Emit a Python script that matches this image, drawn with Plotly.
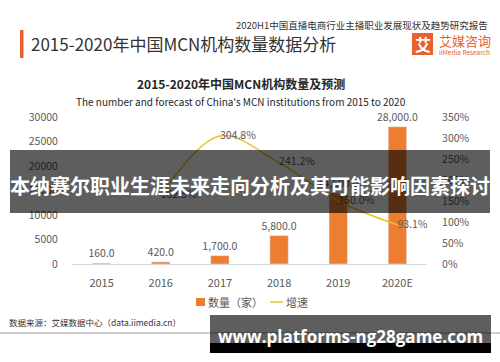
import plotly.graph_objects as go

categories = ["2015", "2016", "2017", "2018", "2019", "2020E"]
counts = [160, 420, 1700, 5800, 14500, 28000]
growth_x = ["2016", "2017", "2018", "2019", "2020E"]
growth = [162.5, 304.8, 241.2, 150.0, 93.1]
left_ticks = [0, 5000, 10000, 15000, 20000, 25000, 30000]
right_ticks = [0, 50, 100, 150, 200, 250, 300, 350]
right_tick_labels = [f"{v}%" for v in right_ticks]

FONT = "Noto Sans CJK SC"
L, R, T, B = 72, 427, 117, 264
W, H = 500, 362
BAR_COLOR = "#ED7D31"
LINE_COLOR = "#E9C32A"


def px(x):
    return (x - L) / (R - L)


def py(y):
    return (B - y) / (B - T)


fig = go.Figure()
fig.add_trace(go.Bar(
    x=categories, y=counts, name="数量（家）",
    marker_color=BAR_COLOR, width=0.31,
    text=counts, texttemplate="%{y:,.1f}", textposition="outside",
    textfont=dict(size=10.5, color="#595959"),
    constraintext="none", cliponaxis=False,
))
fig.add_trace(go.Scatter(
    x=growth_x, y=growth, name="增速", yaxis="y2",
    mode="lines+text", line=dict(color=LINE_COLOR, width=1.5, shape="spline", smoothing=1),
    text=[f"{v:.1f}%" for v in growth], textposition="middle right",
    textfont=dict(size=10.5, color="#595959"), cliponaxis=False,
))

shapes = []
annotations = []


def rect(x0, x1, y0, y1, color):
    shapes.append(dict(type="rect", xref="paper", yref="paper",
                       x0=px(x0), x1=px(x1), y0=py(y1), y1=py(y0),
                       fillcolor=color, line_width=0, layer="above"))


def hline(x0, x1, y, color, width):
    shapes.append(dict(type="line", xref="paper", yref="paper",
                       x0=px(x0), x1=px(x1), y0=py(y), y1=py(y),
                       line=dict(color=color, width=width), layer="above"))


def ann(text, x, y, size, color="#333333", xanchor="left", bold=False, family=FONT):
    annotations.append(dict(
        text=f"<b>{text}</b>" if bold else text,
        xref="paper", yref="paper", x=px(x), y=py(y),
        xanchor=xanchor, yanchor="middle", showarrow=False,
        font=dict(size=size, color=color, family=family)))


# header
rect(20, 23.5, 30, 58, "#E8602C")
rect(412, 433, 33, 55, "#E8602C")
ann("2020H1中国直播电商行业主播职业发展现状及趋势研究报告", 490, 25, 9.5, xanchor="right")
ann("2015-2020年中国MCN机构数量数据分析", 29, 44, 17)
ann("<b>艾</b>", 422.5, 44, 16, color="#FFFFFF", xanchor="center")
ann("艾媒咨询", 437, 40, 13, color="#E8602C")
ann("iiMedia Research", 437, 52, 6.5, color="#E8602C")
ann("2015-2020年中国MCN机构数量及预测", 241, 83, 12, color="#262626", xanchor="center", bold=True)
ann("The number and forecast of China's MCN institutions from 2015 to 2020", 241, 101, 10,
    color="#262626", xanchor="center")

# legend (drawn by hand)
rect(196, 205, 298, 306, BAR_COLOR)
ann(fig.data[0].name, 206, 302, 11, color="#595959")
hline(270, 283, 302, LINE_COLOR, 1.5)
ann(fig.data[1].name, 284, 302, 11, color="#595959")

# footer
ann("数据来源：艾媒数据中心（data.iimedia.cn）", 7, 322, 8.5)
hline(0, 500, 333, "#BFBFBF", 1.5)

# overlay banners
rect(10, 490, 150, 213, "rgba(0,0,0,0.63)")
rect(210, 491, 315, 343, "rgba(0,0,0,0.63)")
rect(210, 491, 343, 353, "#000000")
ann("本纳赛尔职业生涯未来走向分析及其可能影响因素探讨", 250, 185, 20,
    color="#FFFFFF", xanchor="center", bold=True)
ann("www.platforms-ng28game.com", 350, 336, 17, color="#FFFFFF", xanchor="center",
    bold=True, family="Open Sans")

fig.update_layout(
    width=W, height=H,
    margin=dict(l=L, r=W - R, t=T, b=H - B, pad=0, autoexpand=False),
    paper_bgcolor="white", plot_bgcolor="white",
    font=dict(family=FONT, color="#595959"),
    showlegend=False,
    bargap=0.3,
    xaxis=dict(type="category", categoryorder="array", categoryarray=categories,
               showline=True, linecolor="#D9D9D9", linewidth=1,
               showgrid=False, ticks="outside", ticklen=9, tickcolor="rgba(0,0,0,0)",
               tickfont=dict(size=11, color="#595959")),
    yaxis=dict(range=[0, 30000], tickvals=left_ticks, tickformat="d",
               showgrid=False, zeroline=False, showline=False,
               ticks="outside", ticklen=11, tickcolor="rgba(0,0,0,0)",
               tickfont=dict(size=10.5, color="#595959")),
    yaxis2=dict(range=[0, 350], tickmode="array", tickvals=right_ticks,
                ticktext=right_tick_labels,
                overlaying="y", side="right", showgrid=False, zeroline=False,
                showline=False, ticks="outside", ticklen=12, tickcolor="rgba(0,0,0,0)",
                tickfont=dict(size=10.5, color="#595959")),
    shapes=shapes, annotations=annotations,
)

fig.write_html("out.html", config={"displayModeBar": False},
               post_script="document.body.style.margin='0';")
